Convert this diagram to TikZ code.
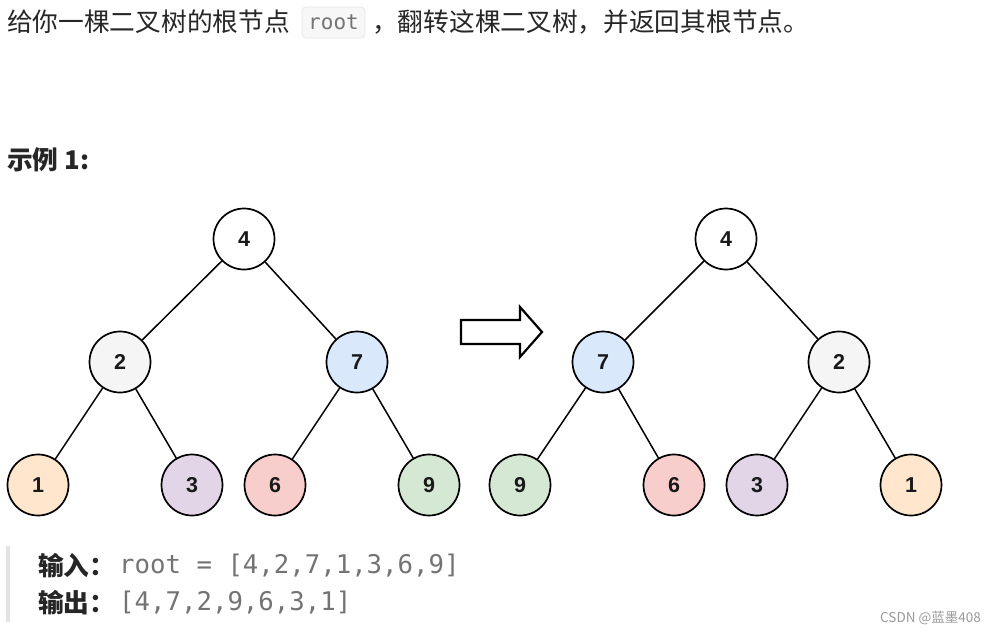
\documentclass[tikz,border=0pt]{standalone}
\usepackage{fontspec}
\setmainfont{Noto Sans CJK SC}
\newfontfamily\monof{DejaVu Sans Mono}
\newfontfamily\numf{Liberation Sans}
\definecolor{txt}{HTML}{262626}
\definecolor{codegray}{HTML}{737373}
\definecolor{cbg}{HTML}{F7F7F7}
\definecolor{cbd}{HTML}{E6E6E6}
\definecolor{qbar}{HTML}{E3E3E3}
\definecolor{cwhite}{HTML}{FFFFFF}
\definecolor{cgray}{HTML}{F5F5F5}
\definecolor{cblue}{HTML}{DAE8FC}
\definecolor{corange}{HTML}{FFE6CC}
\definecolor{cpurple}{HTML}{E1D5E7}
\definecolor{cred}{HTML}{F8CECC}
\definecolor{cgreen}{HTML}{D5E8D4}
\begin{document}
\begin{tikzpicture}[x=1pt,y=-1pt,
  tn/.style={circle, draw=black, line width=1.7pt, minimum size=61pt, inner sep=0pt,
    font=\numf\bfseries\fontsize{21.5}{21.5}\selectfont, text=black!90},
  tedge/.style={line width=1.5pt},
  body/.style={inner sep=0pt, anchor=west, text=txt, font=\fontsize{25.7}{30}\selectfont},
  bodyb/.style={body, font=\bfseries\fontsize{25.7}{30}\selectfont},
  code/.style={inner sep=0pt, anchor=west, text=codegray, font=\monof\fontsize{25.7}{30}\selectfont}]
\useasboundingbox (0,0) rectangle (996,634);
% title
\node[body] (t1) at (7,22) {给你一棵二叉树的根节点};
\node[draw=cbd, fill=cbg, rounded corners=4pt, line width=0.8pt, minimum width=63pt, minimum height=31pt, inner sep=0pt, text=codegray, font=\monof\fontsize{21}{21}\selectfont] (rt) at (333.5,22.5) {root};
\node[body] (t2) at (372,22) {，翻转这棵二叉树，并返回其根节点。};
% example heading
\node[bodyb] (ex) at (7,160) {示例 1:};
% left tree
\node[tn, fill=cwhite]  (a4) at (244,239) {4};
\node[tn, fill=cgray]   (a2) at (120,362) {2};
\node[tn, fill=cblue]   (a7) at (357,362) {7};
\node[tn, fill=corange] (a1) at (38,485) {1};
\node[tn, fill=cpurple] (a3) at (192,485) {3};
\node[tn, fill=cred]    (a6) at (275,485) {6};
\node[tn, fill=cgreen]  (a9) at (429,485) {9};
\draw[tedge] (a4) -- (a2);
\draw[tedge] (a4) -- (a7);
\draw[tedge] (a2) -- (a1);
\draw[tedge] (a2) -- (a3);
\draw[tedge] (a7) -- (a6);
\draw[tedge] (a7) -- (a9);
% arrow
\draw[line width=2.2pt, line join=miter, fill=white] (461,320) -- (520,320) -- (520,307) -- (542,332) -- (520,357) -- (520,344) -- (461,344) -- cycle;
% right tree
\node[tn, fill=cwhite]  (b4) at (726,239) {4};
\node[tn, fill=cblue]   (b7) at (603,362) {7};
\node[tn, fill=cgray]   (b2) at (839,362) {2};
\node[tn, fill=cgreen]  (b9) at (520,485) {9};
\node[tn, fill=cred]    (b6) at (674,485) {6};
\node[tn, fill=cpurple] (b3) at (757,485) {3};
\node[tn, fill=corange] (b1) at (911,485) {1};
\draw[tedge] (b4) -- (b7);
\draw[tedge] (b4) -- (b2);
\draw[tedge] (b7) -- (b9);
\draw[tedge] (b7) -- (b6);
\draw[tedge] (b2) -- (b3);
\draw[tedge] (b2) -- (b1);
% quote block
\fill[qbar] (6,546) rectangle (10,622);
\node[bodyb] (in) at (38,566) {输入：};
\node[code] (inv) at (119,566) {root = [4,2,7,1,3,6,9]};
\node[bodyb] (out) at (38,603) {输出：};
\node[code] (outv) at (119,603) {[4,7,2,9,6,3,1]};
% watermark
\node[inner sep=0pt, anchor=east, text=gray!80, font=\fontsize{13.5}{15}\selectfont] (wm) at (981,618) {CSDN @蓝墨408};
\end{tikzpicture}
\end{document}
